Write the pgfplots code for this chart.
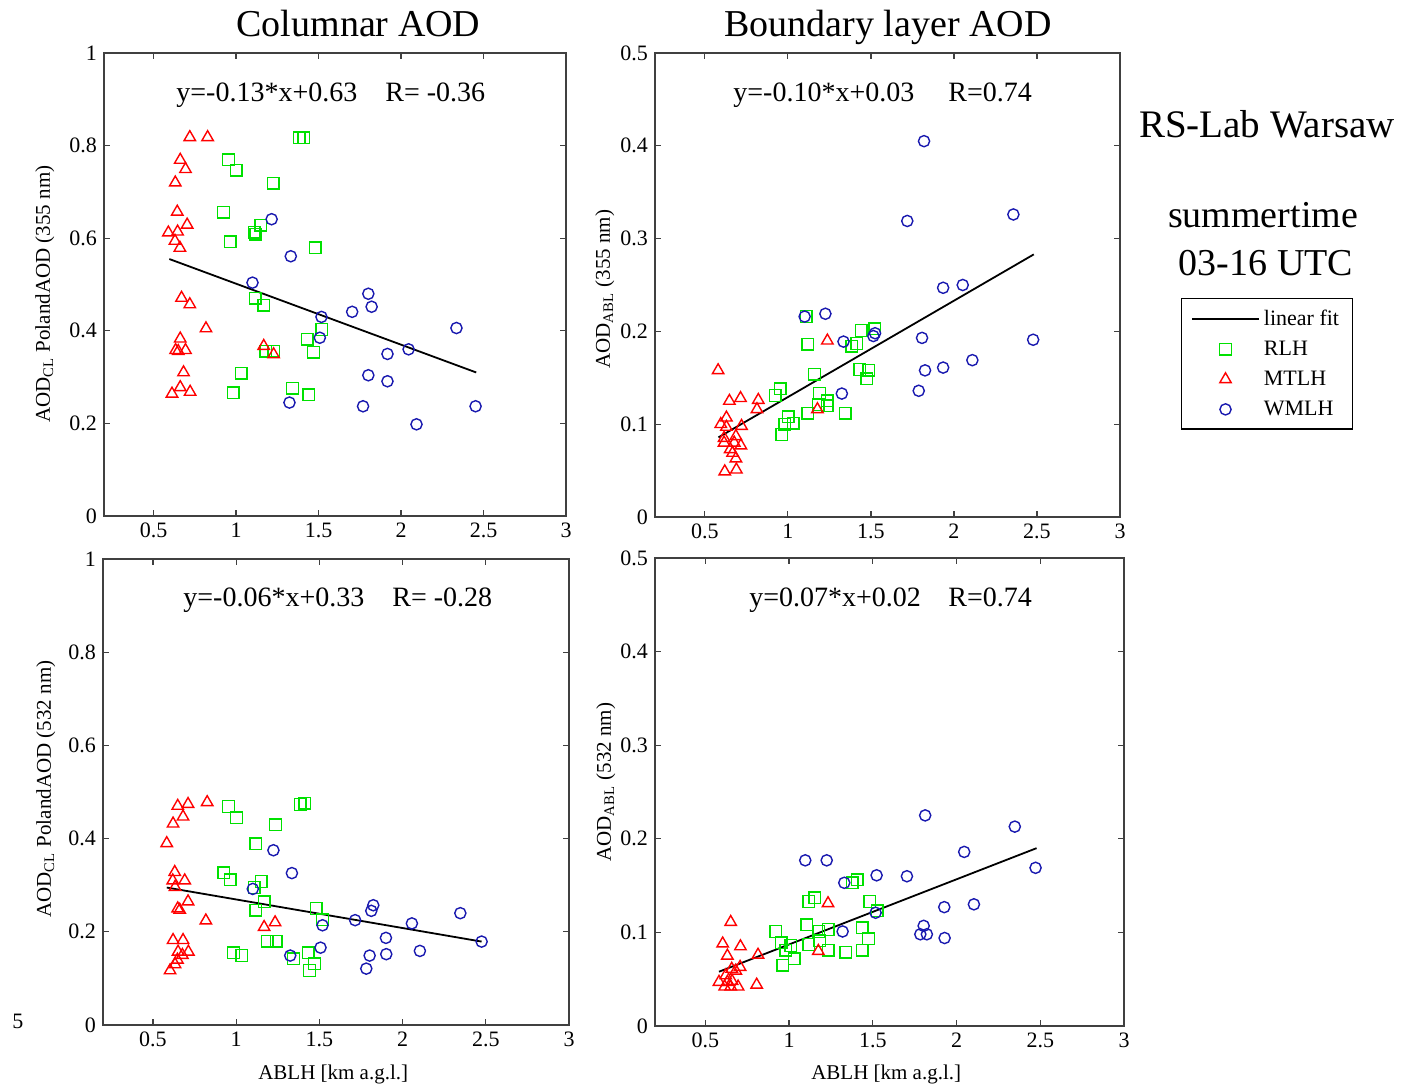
\documentclass[border=0pt]{standalone}
\usepackage{fontspec}
\setmainfont{Liberation Serif}
\usepackage{pgfplots}
\pgfplotsset{compat=1.18}
\definecolor{mgreen}{RGB}{0,225,0}
\definecolor{mred}{RGB}{255,0,0}
\definecolor{mblue}{RGB}{25,25,175}
\pgfplotsset{
  panel/.style={
    scale only axis, anchor=north west,
    xmin=0.2, xmax=3, xtick={0.5,1,1.5,2,2.5,3},
    tick align=inside, major tick length=3pt,
    axis line style={black!75, line width=0.8pt},
    every tick/.style={black!75, line width=0.6pt},
    tick label style={font=\fontsize{11}{13}\selectfont},
    label style={font=\fontsize{10.5}{12}\selectfont},
    /pgf/number format/assume math mode=true,
  },
  rlh/.style={only marks, mark=square, mark size=2.9pt, color=mgreen, line width=0.7pt,
    legend image code/.code={\draw[mark repeat=2,mark phase=2,##1] plot coordinates {(0pt,0pt) (16.75pt,0pt) (33.5pt,0pt)};}},
  mtlh/.style={only marks, mark=triangle, mark size=3.3pt, color=mred, line width=0.7pt,
    legend image code/.code={\draw[mark repeat=2,mark phase=2,##1] plot coordinates {(0pt,0pt) (16.75pt,0pt) (33.5pt,0pt)};}},
  wmlh/.style={only marks, mark=o, mark size=2.8pt, color=mblue, line width=0.7pt,
    legend image code/.code={\draw[mark repeat=2,mark phase=2,##1] plot coordinates {(0pt,0pt) (16.75pt,0pt) (33.5pt,0pt)};}},
  fit/.style={black, line width=0.9pt, no marks,
    legend image code/.code={\draw[##1] (0pt,0pt) -- (33.5pt,0pt);}},
}
\begin{document}
\begin{tikzpicture}
\useasboundingbox (0pt,0pt) rectangle (706.5pt,-543pt);

% ---------- top left ----------
\begin{axis}[panel, at={(52pt,-26.5pt)}, width=231pt, height=231.5pt,
  ymin=0, ymax=1, ytick={0,0.2,0.4,0.6,0.8,1},
  ylabel={AOD\textsubscript{CL} PolandAOD (355 nm)},
  ylabel style={at={(axis description cs:-0.117,0.479)}, anchor=base}]
\addplot[fit] coordinates {(0.596,0.555) (2.456,0.310)};
\addplot[rlh] coordinates {(1.382,0.817) (1.41,0.817) (0.954,0.769) (1.002,0.747) (1.226,0.719) (0.924,0.656) (1.15,0.628) (1.11,0.613) (1.12,0.609) (0.964,0.592) (1.48,0.579) (1.116,0.47) (1.168,0.455) (1.52,0.403) (1.432,0.382) (1.18,0.356) (1.228,0.356) (1.47,0.354) (1.032,0.308) (0.984,0.266) (1.342,0.276) (1.44,0.262)};
\addplot[mtlh] coordinates {(0.72,0.818) (0.828,0.818) (0.662,0.769) (0.694,0.749) (0.632,0.72) (0.644,0.657) (0.704,0.629) (0.59,0.612) (0.646,0.614) (0.63,0.594) (0.66,0.579) (0.67,0.471) (0.72,0.457) (0.818,0.405) (0.662,0.383) (0.634,0.358) (0.65,0.356) (0.694,0.358) (0.682,0.31) (0.662,0.278) (0.612,0.264) (0.722,0.268) (1.168,0.367) (1.228,0.349)};
\addplot[wmlh] coordinates {(1.216,0.641) (1.332,0.561) (1.1,0.504) (1.802,0.48) (1.822,0.452) (1.704,0.441) (1.518,0.43) (1.508,0.385) (2.336,0.406) (2.046,0.36) (1.918,0.35) (1.802,0.304) (1.918,0.291) (1.324,0.245) (1.77,0.237) (2.452,0.237) (2.094,0.198)};
\end{axis}

% ---------- top right ----------
\begin{axis}[panel, at={(327.5pt,-26.5pt)}, width=232.5pt, height=232pt,
  ymin=0, ymax=0.5, ytick={0,0.1,0.2,0.3,0.4,0.5},
  ylabel={AOD\textsubscript{ABL} (355 nm)},
  ylabel style={at={(axis description cs:-0.097,0.491)}, anchor=base},
  legend style={at={(axis description cs:1.131,0.472)}, anchor=north west,
    font=\fontsize{11}{13}\selectfont, draw=black, line width=0.6pt,
    inner xsep=4.8pt, inner ysep=3.5pt, row sep=2.3pt},
  legend cell align=left]
\addplot[fit] coordinates {(0.582,0.0858) (2.481,0.283)};
\addlegendentry{linear fit}
\addplot[rlh] coordinates {(1.111,0.216) (1.121,0.186) (1.442,0.201) (1.523,0.203) (1.414,0.187) (1.384,0.184) (1.16,0.154) (1.434,0.159) (1.487,0.158) (1.475,0.149) (0.954,0.138) (0.923,0.131) (1.19,0.133) (1.238,0.125) (1.182,0.121) (1.238,0.120) (1.119,0.112) (1.345,0.112) (1.002,0.108) (1.032,0.101) (0.982,0.1) (0.964,0.089)};
\addlegendentry{RLH}
\addplot[mtlh] coordinates {(0.58,0.158) (1.238,0.19) (0.648,0.125) (0.715,0.128) (0.822,0.126) (0.814,0.116) (1.178,0.116) (0.63,0.107) (0.596,0.1) (0.721,0.098) (0.63,0.097) (0.687,0.087) (0.616,0.085) (0.616,0.08) (0.653,0.073) (0.677,0.08) (0.717,0.077) (0.667,0.069) (0.687,0.063) (0.62,0.049) (0.69,0.051)};
\addlegendentry{MTLH}
\addplot[wmlh] coordinates {(1.82,0.405) (1.719,0.319) (2.358,0.326) (1.935,0.247) (2.053,0.250) (1.101,0.216) (1.226,0.219) (1.335,0.189) (1.515,0.195) (1.525,0.198) (1.808,0.193) (2.477,0.191) (2.111,0.169) (1.935,0.161) (1.826,0.158) (1.325,0.133) (1.788,0.136)};
\addlegendentry{WMLH}
\end{axis}

% ---------- bottom left ----------
\begin{axis}[panel, at={(51.5pt,-279.5pt)}, width=233pt, height=233pt,
  ymin=0, ymax=1, ytick={0,0.2,0.4,0.6,0.8,1},
  ylabel={AOD\textsubscript{CL} PolandAOD (532 nm)},
  ylabel style={at={(axis description cs:-0.112,0.506)}, anchor=base},
  xlabel={ABLH [km a.g.l.]},
  xlabel style={at={(axis description cs:0.494,-0.118)}, anchor=base}]
\addplot[fit] coordinates {(0.583,0.295) (2.475,0.179)};
\addplot[rlh] coordinates {(1.385,0.473) (1.413,0.476) (0.954,0.469) (1.002,0.445) (1.236,0.43) (1.118,0.389) (0.926,0.327) (0.964,0.312) (1.15,0.308) (1.108,0.295) (1.168,0.264) (1.118,0.246) (1.481,0.25) (1.519,0.226) (1.186,0.18) (1.24,0.18) (0.984,0.155) (1.034,0.149) (1.345,0.142) (1.433,0.155) (1.471,0.131) (1.441,0.117)};
\addplot[mtlh] coordinates {(0.649,0.47) (0.711,0.474) (0.826,0.478) (0.681,0.447) (0.621,0.432) (0.583,0.39) (0.631,0.328) (0.619,0.31) (0.691,0.31) (0.633,0.296) (0.711,0.265) (0.649,0.25) (0.661,0.247) (0.818,0.224) (1.168,0.21) (1.234,0.22) (0.621,0.182) (0.681,0.182) (0.651,0.157) (0.713,0.157) (0.677,0.15) (0.647,0.14) (0.633,0.13) (0.603,0.117)};
\addplot[wmlh] coordinates {(1.224,0.375) (1.335,0.326) (1.1,0.292) (1.824,0.257) (1.812,0.245) (2.347,0.24) (1.715,0.225) (2.056,0.218) (1.519,0.214) (2.475,0.179) (1.9,0.187) (1.507,0.166) (1.325,0.149) (1.802,0.149) (1.902,0.152) (2.104,0.159) (1.782,0.121)};
\end{axis}

% ---------- bottom right ----------
\begin{axis}[panel, at={(327.5pt,-279pt)}, width=234.5pt, height=234pt,
  ymin=0, ymax=0.5, ytick={0,0.1,0.2,0.3,0.4,0.5},
  ylabel={AOD\textsubscript{ABL} (532 nm)},
  ylabel style={at={(axis description cs:-0.094,0.521)}, anchor=base},
  xlabel={ABLH [km a.g.l.]},
  xlabel style={at={(axis description cs:0.493,-0.115)}, anchor=base}]
\addplot[fit] coordinates {(0.582,0.058) (2.478,0.19)};
\addplot[rlh] coordinates {(1.378,0.153) (1.408,0.156) (1.117,0.133) (1.155,0.137) (1.483,0.133) (1.527,0.123) (1.107,0.108) (0.922,0.101) (1.177,0.101) (1.235,0.103) (1.436,0.105) (1.475,0.093) (0.954,0.089) (1.117,0.087) (1.185,0.091) (1.01,0.086) (0.982,0.081) (1.235,0.081) (1.34,0.079) (1.436,0.081) (1.03,0.072) (0.964,0.065)};
\addplot[mtlh] coordinates {(0.652,0.111) (1.233,0.131) (0.604,0.088) (0.71,0.085) (0.632,0.075) (0.815,0.076) (1.175,0.08) (0.658,0.061) (0.708,0.063) (0.682,0.059) (0.622,0.054) (0.582,0.047) (0.632,0.047) (0.66,0.048) (0.616,0.042) (0.652,0.042) (0.696,0.042) (0.807,0.044)};
\addplot[wmlh] coordinates {(1.813,0.225) (2.348,0.213) (2.046,0.186) (1.097,0.177) (1.225,0.177) (2.472,0.169) (1.523,0.161) (1.704,0.16) (1.33,0.153) (1.927,0.127) (2.104,0.13) (1.517,0.121) (1.32,0.101) (1.804,0.107) (1.784,0.098) (1.823,0.098) (1.929,0.094)};
\end{axis}

% ---------- texts ----------
\begin{scope}[every node/.style={inner sep=0pt}]
\node[anchor=base, font=\fontsize{19}{22}\selectfont] at (179.25pt,-18.5pt) {Columnar AOD};
\node[anchor=base, font=\fontsize{19}{22}\selectfont] at (444pt,-18.5pt) {Boundary layer AOD};
\node[anchor=base, font=\fontsize{19.5}{22}\selectfont] at (633.5pt,-69pt) {RS-Lab Warsaw};
\node[anchor=base, font=\fontsize{19}{22}\selectfont] at (631.5pt,-113.5pt) {summertime};
\node[anchor=base, font=\fontsize{19}{22}\selectfont] at (633pt,-137.5pt) {03-16 UTC};
\node[anchor=base west, font=\fontsize{14}{16}\selectfont] at (88pt,-51pt) {y=-0.13*x+0.63};
\node[anchor=base west, font=\fontsize{14}{16}\selectfont] at (192.5pt,-51pt) {R= -0.36};
\node[anchor=base west, font=\fontsize{14}{16}\selectfont] at (366.5pt,-51pt) {y=-0.10*x+0.03};
\node[anchor=base west, font=\fontsize{14}{16}\selectfont] at (474pt,-51pt) {R=0.74};
\node[anchor=base west, font=\fontsize{14}{16}\selectfont] at (91.5pt,-303pt) {y=-0.06*x+0.33};
\node[anchor=base west, font=\fontsize{14}{16}\selectfont] at (196pt,-303pt) {R= -0.28};
\node[anchor=base west, font=\fontsize{14}{16}\selectfont] at (374.5pt,-303pt) {y=0.07*x+0.02};
\node[anchor=base west, font=\fontsize{14}{16}\selectfont] at (474pt,-303pt) {R=0.74};
\node[anchor=base west, font=\fontsize{11}{13}\selectfont] at (6pt,-514pt) {5};
\end{scope}
\end{tikzpicture}
\end{document}
